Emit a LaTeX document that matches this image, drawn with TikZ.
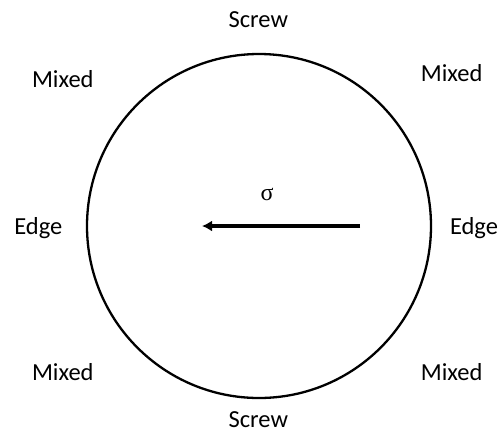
\documentclass[tikz,border=0pt]{standalone}
\usepackage{fontspec}
\setmainfont{Carlito}
\newfontfamily\greekfont{Liberation Serif}
\usetikzlibrary{arrows.meta,positioning}
\tikzset{
  ring/.style    ={circle, draw=black, line width=2.3pt, minimum size=344pt, inner sep=0pt},
  tag/.style     ={anchor=base, inner sep=0pt, font=\fontsize{24.5}{29}\selectfont},
  stress/.style  ={-{Latex[length=10pt, width=11pt]}, line width=3.3pt},
}
\begin{document}
\begin{tikzpicture}[x=1pt, y=-1pt]
    \useasboundingbox (0,0) rectangle (500,432);
    % dislocation loop
    \node[ring] (loop) at (259,226) {};

    % character labels round the loop
    \foreach \x/\y/\nm/\txt in {258.3/27.7/st/Screw, 258.3/427.7/sb/Screw,
                                38.3/234.3/el/Edge, 474/234.3/er/Edge,
                                62.8/87.3/mtl/Mixed, 451.7/81/mtr/Mixed,
                                62.8/380/mbl/Mixed, 451.7/380/mbr/Mixed}{
      \node[tag] (\nm) at (\x,\y) {\txt};
    }

    % applied stress
    \coordinate (tail) at (360,226);
    \coordinate (tip) at (202,226);
    \draw[stress] (tail) -- (tip);
    \node[tag, font=\fontsize{24}{29}\greekfont] (sig) at (267,200) {σ};
\end{tikzpicture}
\end{document}
